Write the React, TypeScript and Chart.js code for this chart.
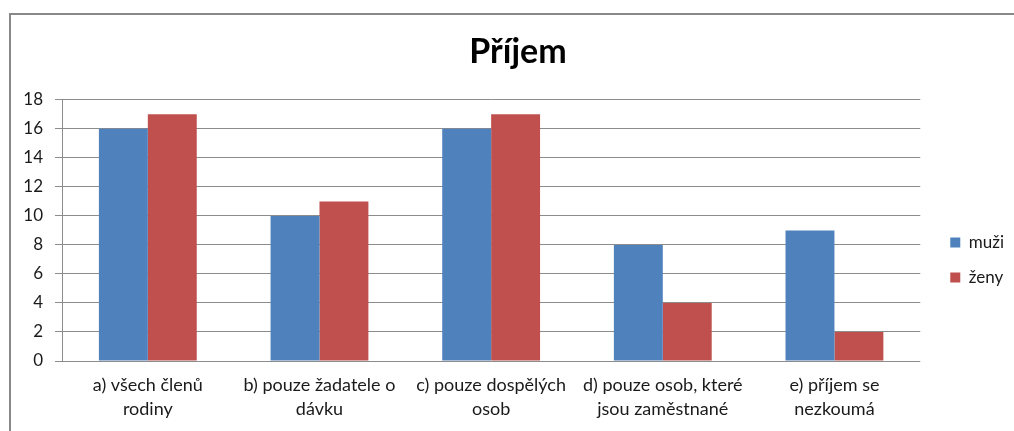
import React, { useEffect, useRef } from "react";
import { Chart, registerables } from "chart.js";

Chart.register(...registerables);

const categories: string[][] = [
  ["a) všech členů", "rodiny"],
  ["b) pouze žadatele o", "dávku"],
  ["c) pouze dospělých", "osob"],
  ["d) pouze osob, které", "jsou zaměstnané"],
  ["e) příjem se", "nezkoumá"],
];
const muzi: number[] = [16, 10, 16, 8, 9];
const zeny: number[] = [17, 11, 17, 4, 2];
const seriesNames: string[] = ["muži", "ženy"];
const titleText = "Příjem";

const FONT = "Lato, 'Open Sans', sans-serif";
const TEXT = "#1a1a1a";

export default function App() {
  const ref = useRef<HTMLCanvasElement | null>(null);
  useEffect(() => {
    if (!ref.current) return;
    const chart = new Chart(ref.current, {
      type: "bar",
      data: {
        labels: categories,
        datasets: [
          { label: seriesNames[0], data: muzi, backgroundColor: "#4F81BD", borderWidth: 0, yAxisID: "y" },
          { label: seriesNames[1], data: zeny, backgroundColor: "#C0504D", borderWidth: 0, yAxisID: "y" },
        ],
      },
      options: {
        responsive: false,
        animation: false,
        devicePixelRatio: 1,
        layout: { padding: { left: 22, top: 16, right: 0, bottom: -2 } },
        datasets: { bar: { categoryPercentage: 0.57, barPercentage: 1 } },
        plugins: {
          tooltip: { enabled: false },
          title: {
            display: true,
            text: titleText,
            color: "#000",
            font: { family: FONT, size: 34, weight: "bold", lineHeight: 1.2 },
            padding: { top: 16, bottom: 27 },
          },
          legend: {
            display: true,
            position: "right",
            title: {
              display: true,
              text: " ",
              font: { family: FONT, size: 10, lineHeight: 1.2 },
              padding: { top: 59, bottom: 0 },
            },
            labels: {
              boxWidth: 10,
              boxHeight: 10,
              padding: 18,
              color: TEXT,
              font: { family: FONT, size: 17 },
            },
          },
        },
        scales: {
          x: {
            grid: { display: false, drawTicks: false },
            border: { display: false },
            ticks: {
              color: TEXT,
              font: { family: FONT, size: 18, lineHeight: 1.333 },
              padding: 12,
              maxRotation: 0,
              autoSkip: false,
            },
          },
          y: {
            min: 0,
            max: 18,
            afterFit: (s: any) => { s.width = 40; },
            ticks: {
              stepSize: 2,
              color: TEXT,
              font: { family: FONT, size: 17 },
              padding: 12,
            },
            grid: { color: "#8c8c8c", lineWidth: 1, tickLength: 7, drawTicks: true },
            border: { display: true, color: "#8c8c8c", width: 1 },
          },
          y2: {
            position: "right",
            display: true,
            afterFit: (s: any) => { s.width = 12; },
            grid: { display: false, drawTicks: false },
            border: { display: false },
            ticks: { display: false },
          },
        },
      },
    });
    return () => chart.destroy();
  }, []);

  return (
    <div style={{ position: "absolute", left: 0, top: 0, width: 1014, height: 431, overflow: "hidden", background: "#fff" }}>
      <div
        style={{
          position: "absolute",
          left: 9,
          top: 13,
          width: 1100,
          height: 600,
          border: "2px solid #888888",
          boxSizing: "border-box",
        }}
      />
      <canvas ref={ref} width={1014} height={431} style={{ position: "absolute", left: 0, top: 0, width: 1014, height: 431 }} />
    </div>
  );
}
